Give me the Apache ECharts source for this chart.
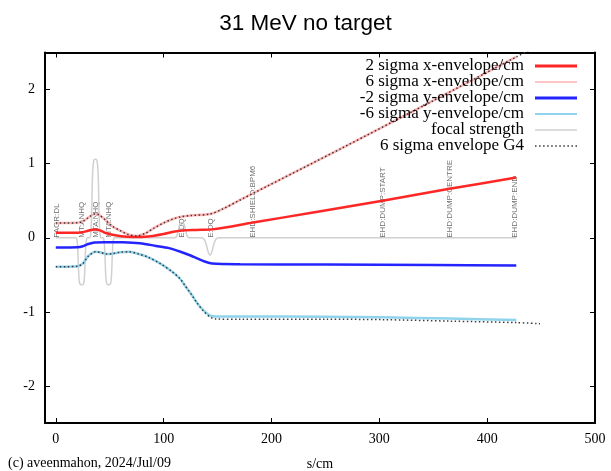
<!DOCTYPE html>
<html><head><meta charset="utf-8">
<script src="https://cdn.jsdelivr.net/npm/echarts@6/dist/echarts.min.js"></script>
<style>html,body{margin:0;padding:0;background:#fff}#c{width:611px;height:471px}</style>
</head><body><div id="c"></div>
<script>
// ---- data ----
const xTicks = [0, 100, 200, 300, 400, 500];
const yTicks = [-2, -1, 0, 1, 2];
const sigma2X = [[0,0.067],[10,0.067],[20,0.068],[25,0.075],[30,0.095],[36,0.113],[41,0.1],[47,0.06],[55,0.035],[66,0.015],[78,0.009],[90,0.025],[100,0.05],[109,0.08],[120,0.1],[130,0.105],[145,0.113],[183,0.205],[240,0.345],[303,0.5],[365,0.66],[427,0.813]];
const sigma6X = [[0,0.2],[10,0.2],[20,0.202],[25,0.22],[30,0.27],[36,0.32],[40,0.31],[46,0.24],[52,0.16],[60,0.094],[67,0.045],[75,0.025],[83,0.06],[91,0.13],[100,0.2],[108,0.25],[115,0.28],[125,0.3],[143,0.32],[155,0.39],[171,0.51],[264,1.2],[350,1.85],[427,2.44]];
const sigma2Y = [[0,-0.13],[10,-0.13],[20,-0.128],[25,-0.115],[30,-0.085],[36,-0.063],[45,-0.06],[62,-0.062],[78,-0.075],[93,-0.11],[105,-0.14],[115,-0.185],[125,-0.24],[131,-0.278],[138,-0.32],[145,-0.348],[171,-0.358],[250,-0.362],[350,-0.368],[427,-0.374]];
const sigma6Y = [[0,-0.39],[10,-0.39],[20,-0.385],[25,-0.35],[30,-0.25],[37,-0.19],[42,-0.2],[47,-0.22],[52,-0.215],[60,-0.195],[68,-0.19],[77,-0.22],[86,-0.265],[97,-0.35],[108,-0.46],[115,-0.55],[120,-0.65],[126,-0.77],[131,-0.88],[137,-0.98],[143,-1.05],[150,-1.062],[171,-1.063],[250,-1.065],[303,-1.074],[365,-1.09],[427,-1.11]];
const focal = [[0,0],[18,0],[19.5,-0.02],[20.5,-0.2],[21.3,-0.5],[22.3,-0.62],[24,-0.635],[25.7,-0.62],[26.7,-0.5],[27.5,-0.2],[28.5,-0.02],[30,0],[31,0],[32.3,0.03],[33.3,0.35],[34.1,0.85],[35.2,1.04],[36.7,1.06],[38.2,1.04],[39.3,0.85],[40.1,0.35],[41.1,0.03],[42.4,0],[43.2,0],[44.5,-0.02],[45.5,-0.2],[46.3,-0.5],[47.3,-0.62],[49,-0.635],[50.7,-0.62],[51.7,-0.5],[52.5,-0.2],[53.5,-0.02],[55,0],[110,0],[112,0.02],[113.5,0.09],[115,0.18],[117,0.21],[119,0.18],[120.5,0.09],[122,0.02],[124,0],[135,0],[137.5,-0.02],[139.5,-0.09],[141.5,-0.2],[143,-0.235],[144.5,-0.2],[146.5,-0.09],[148.5,-0.02],[151,0],[427,0]];
const g4X = [[0,0.2],[10,0.2],[20,0.202],[25,0.22],[30,0.27],[36,0.32],[40,0.31],[46,0.24],[52,0.16],[60,0.094],[67,0.045],[75,0.025],[83,0.06],[91,0.13],[100,0.2],[108,0.25],[115,0.28],[125,0.3],[143,0.32],[155,0.39],[171,0.51],[264,1.2],[350,1.85],[427,2.44],[449,2.6]];
const g4Y = [[0,-0.39],[10,-0.39],[20,-0.385],[25,-0.35],[30,-0.25],[37,-0.19],[42,-0.2],[47,-0.22],[52,-0.215],[60,-0.195],[68,-0.19],[77,-0.22],[86,-0.265],[97,-0.35],[108,-0.46],[115,-0.55],[120,-0.65],[126,-0.77],[131,-0.88],[137,-0.99],[143,-1.07],[148,-1.095],[171,-1.1],[250,-1.1],[303,-1.105],[365,-1.125],[427,-1.145],[449,-1.16]];
const elemNames = ['FAGR:DL','MT:ANHQ','MTA:NHQ','MTA:NHQ','E:DQ','E:DQ','EHD:SHIELD:BPM6','EHD:DUMP:START','EHD:DUMP:CENTRE','EHD:DUMP:END'];
const elemS = [0.5, 24.5, 37, 49, 116.5, 144, 183, 303, 365, 426];
const seriesNames = ['2 sigma x-envelope/cm','6 sigma x-envelope/cm','-2 sigma y-envelope/cm','-6 sigma y-envelope/cm','focal strength','6 sigma envelope G4'];

const serif = 'Liberation Serif';
const colors = ['#ff2626', '#ffb4b4', '#2424ff', '#8fd3ec', '#d0d0d0', '#3a3a3a'];
const chart = echarts.init(document.getElementById('c'), null, {renderer:'canvas'});
function ln(idx, data, width, extra) {
  const color = colors[idx];
  return Object.assign({type:'line', name:seriesNames[idx], data, symbol:'none', smooth:0.3, clip:true,
    lineStyle:{color, width}, itemStyle:{color}, animation:false, xAxisIndex:0, yAxisIndex:0}, extra||{});
}
const axisCommon = {
  axisLine:{show:true, onZero:false, lineStyle:{color:'#000', width:2}},
  axisTick:{show:true, inside:true, length:5, lineStyle:{color:'#000', width:1}},
  splitLine:{show:false}
};
const thickIcon = 'path://M0,0H42V3H0Z';
const thinIcon = 'path://M0,0H42V2H0Z';
const dotIcon = 'path://' + Array.from({length:11}, (_, i) => 'M' + (i*4) + ',0h1.5v1.5h-1.5z').join(' ');
chart.setOption({
  animation:false,
  title:{text:'31 MeV no target', left:'center', top:7, textStyle:{fontFamily:'Liberation Sans', fontSize:22.5, fontWeight:'normal', color:'#000'}},
  grid:{left:45, right:16, top:52.5, bottom:48, outerBoundsMode:'none', containLabel:false},
  legend:{orient:'vertical', right:29, top:52.4, align:'right', itemWidth:42, itemHeight:3, itemGap:-1,
    data:[
      {name:seriesNames[0], icon:thickIcon},
      {name:seriesNames[1], icon:thinIcon, itemStyle:{color:'#ffc4c4'}},
      {name:seriesNames[2], icon:thickIcon},
      {name:seriesNames[3], icon:thinIcon},
      {name:seriesNames[4], icon:thinIcon, itemStyle:{color:'#dcdcdc'}},
      {name:seriesNames[5], icon:dotIcon}
    ],
    textStyle:{fontFamily:serif, fontSize:17, lineHeight:14, color:'#000', padding:[0,6,0,0]}, selectedMode:false},
  xAxis:[
    Object.assign({type:'value', min:-10, max:500, position:'bottom',
      axisLabel:{customValues:xTicks, fontFamily:serif, fontSize:14, color:'#000', margin:9},
      name:'s/cm', nameLocation:'middle', nameGap:34, nameTextStyle:{fontFamily:serif, fontSize:14, color:'#000'}}, axisCommon,
      {axisTick:Object.assign({}, axisCommon.axisTick, {customValues:xTicks})}),
    Object.assign({type:'value', min:-10, max:500, position:'top', axisLabel:{show:false}}, axisCommon,
      {axisTick:Object.assign({}, axisCommon.axisTick, {customValues:xTicks})})
  ],
  yAxis:[
    Object.assign({type:'value', min:-2.5, max:2.5, position:'left',
      axisLabel:{customValues:yTicks, fontFamily:serif, fontSize:14, color:'#000', margin:10}}, axisCommon,
      {axisTick:Object.assign({}, axisCommon.axisTick, {customValues:yTicks})}),
    Object.assign({type:'value', min:-2.5, max:2.5, position:'right', axisLabel:{show:false}}, axisCommon,
      {axisTick:Object.assign({}, axisCommon.axisTick, {customValues:yTicks})})
  ],
  graphic:[{type:'text', left:8, top:456, style:{text:'(c) aveenmahon, 2024/Jul/09', font:'14px "Liberation Serif"', fill:'#000'}}],
  series:[
    {type:'custom', name:'elements', data:elemS.map(s=>[s,0]), animation:false, silent:true,
      renderItem:function(params, api){
        const p = api.coord([api.value(0), 0]);
        return {type:'text', x:p[0], y:p[1], rotation:Math.PI/2,
          style:{text:elemNames[params.dataIndex], fill:'#707070', font:'8px "Liberation Sans"', align:'left', verticalAlign:'middle'}};
      }},
    ln(4, focal, 1.5, {smooth:0.4}),
    ln(1, sigma6X, 2.5),
    ln(3, sigma6Y, 2.5),
    ln(0, sigma2X, 2.5),
    ln(2, sigma2Y, 2.5),
    ln(5, g4X, 1.5, {lineStyle:{color:colors[5], width:1.5, type:[1.5,2.5]}}),
    ln(5, g4Y, 1.5, {lineStyle:{color:colors[5], width:1.5, type:[1.5,2.5]}})
  ]
});
</script></body></html>
